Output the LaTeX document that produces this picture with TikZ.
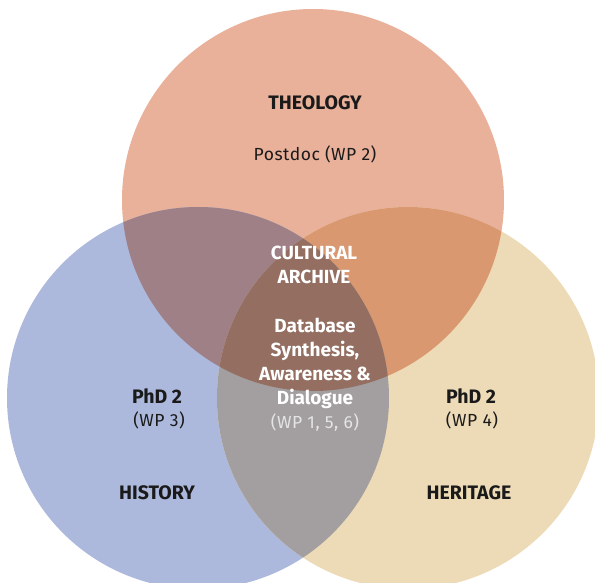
\documentclass[tikz,border=0pt]{standalone}
\usepackage{fontspec}
\setmainfont{Fira Sans}
\definecolor{cTheo}{HTML}{E9B09A}
\definecolor{cHist}{HTML}{ADB9DC}
\definecolor{cHer}{HTML}{EDDBB7}
\definecolor{cTH}{HTML}{9E8086}
\definecolor{cTR}{HTML}{D99870}
\definecolor{cHR}{HTML}{A39FA0}
\definecolor{cAll}{HTML}{936E61}
\definecolor{cTxt}{HTML}{1A1A1A}
\begin{document}
\begin{tikzpicture}[x=1pt,y=-1pt,
  lbl/.style={font=\fontsize{19.5}{22}\selectfont\bfseries, text=cTxt},
  sub/.style={font=\fontsize{17.5}{20}\selectfont\addfontfeature{LetterSpace=3}, text=cTxt},
  ctr/.style={font=\fontsize{19}{24}\selectfont\bfseries, text=white, align=center}]
\useasboundingbox (0,0) rectangle (595,582);
\def\R{191}
\coordinate (T) at (313,200);
\coordinate (L) at (198,398);
\coordinate (H) at (408,398);
\fill[cTheo] (T) circle (\R);
\fill[cHist] (L) circle (\R);
\fill[cHer] (H) circle (\R);
\begin{scope}
  \clip (T) circle (\R);
  \fill[cTH] (L) circle (\R);
  \fill[cTR] (H) circle (\R);
\end{scope}
\begin{scope}
  \clip (L) circle (\R);
  \fill[cHR] (H) circle (\R);
  \clip (H) circle (\R);
  \fill[cAll] (T) circle (\R);
\end{scope}
\node[lbl] (theo) at (315,103) {THEOLOGY};
\node[sub] (post) at (315,154) {Postdoc (WP 2)};
\node[ctr] (arch) at (314,265) {CULTURAL\\ARCHIVE};
\node[ctr] (db) at (315,363) {Database\\Synthesis,\\Awareness \&\\Dialogue};
\node[sub, text=white!90!black] (wp) at (315,423) {(WP 1, 5, 6)};
\node[lbl] (phdl) at (157,396) {PhD 2};
\node[sub] (wpl) at (159,420) {(WP 3)};
\node[lbl] (hist) at (157,493) {HISTORY};
\node[lbl] (phdr) at (471,396) {PhD 2};
\node[sub] (wpr) at (472,420) {(WP 4)};
\node[lbl] (her) at (469,493) {HERITAGE};
\end{tikzpicture}
\end{document}
